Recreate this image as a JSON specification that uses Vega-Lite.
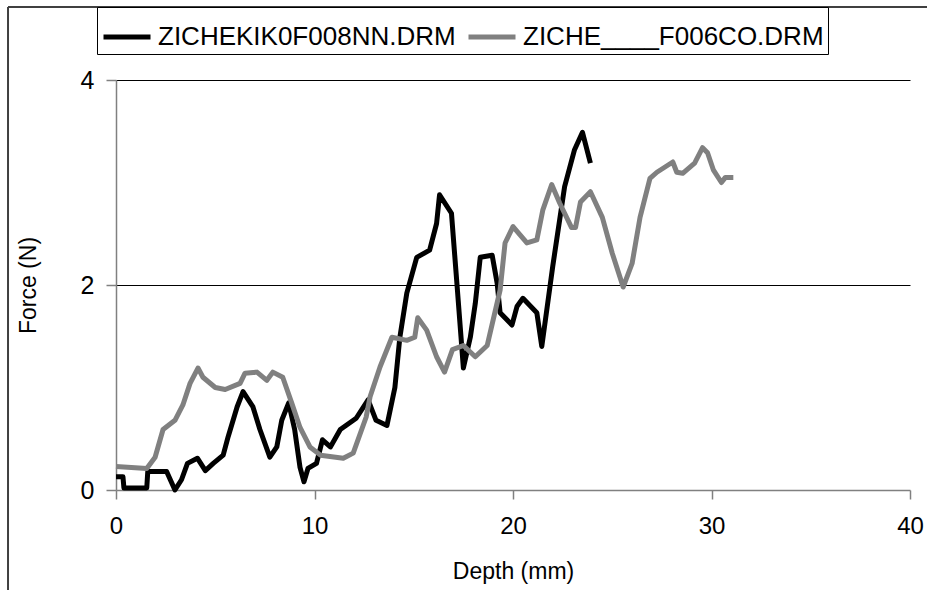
{
  "$schema": "https://vega.github.io/schema/vega-lite/v6.json",
  "width": 794,
  "height": 410,
  "autosize": {"type": "none"},
  "padding": {"left": 116, "top": 80, "right": 17, "bottom": 100},
  "background": "white",
  "config": {
    "view": {"stroke": null},
    "font": "Liberation Sans",
    "axis": {"labelColor": "black", "titleColor": "black", "titleFontWeight": "normal", "domainColor": "#808080", "tickColor": "#808080", "domainWidth": 1.5, "tickWidth": 1.5}
  },
  "datasets": {
    "curves": [
      {"series": "ZICHEKIK0F008NN.DRM", "depth": 0, "force": 0.13},
      {"series": "ZICHEKIK0F008NN.DRM", "depth": 0.35, "force": 0.13},
      {"series": "ZICHEKIK0F008NN.DRM", "depth": 0.4, "force": 0.02},
      {"series": "ZICHEKIK0F008NN.DRM", "depth": 1.55, "force": 0.02},
      {"series": "ZICHEKIK0F008NN.DRM", "depth": 1.6, "force": 0.18},
      {"series": "ZICHEKIK0F008NN.DRM", "depth": 2.55, "force": 0.18},
      {"series": "ZICHEKIK0F008NN.DRM", "depth": 2.97, "force": 0.0},
      {"series": "ZICHEKIK0F008NN.DRM", "depth": 3.3, "force": 0.1},
      {"series": "ZICHEKIK0F008NN.DRM", "depth": 3.6, "force": 0.26},
      {"series": "ZICHEKIK0F008NN.DRM", "depth": 4.1, "force": 0.31},
      {"series": "ZICHEKIK0F008NN.DRM", "depth": 4.5, "force": 0.19},
      {"series": "ZICHEKIK0F008NN.DRM", "depth": 4.9, "force": 0.26},
      {"series": "ZICHEKIK0F008NN.DRM", "depth": 5.4, "force": 0.34},
      {"series": "ZICHEKIK0F008NN.DRM", "depth": 5.65, "force": 0.52},
      {"series": "ZICHEKIK0F008NN.DRM", "depth": 6.1, "force": 0.81},
      {"series": "ZICHEKIK0F008NN.DRM", "depth": 6.4, "force": 0.96},
      {"series": "ZICHEKIK0F008NN.DRM", "depth": 6.9, "force": 0.81},
      {"series": "ZICHEKIK0F008NN.DRM", "depth": 7.25, "force": 0.59},
      {"series": "ZICHEKIK0F008NN.DRM", "depth": 7.75, "force": 0.32},
      {"series": "ZICHEKIK0F008NN.DRM", "depth": 8.1, "force": 0.42},
      {"series": "ZICHEKIK0F008NN.DRM", "depth": 8.35, "force": 0.68},
      {"series": "ZICHEKIK0F008NN.DRM", "depth": 8.7, "force": 0.85},
      {"series": "ZICHEKIK0F008NN.DRM", "depth": 9.0, "force": 0.59},
      {"series": "ZICHEKIK0F008NN.DRM", "depth": 9.27, "force": 0.22},
      {"series": "ZICHEKIK0F008NN.DRM", "depth": 9.47, "force": 0.08},
      {"series": "ZICHEKIK0F008NN.DRM", "depth": 9.67, "force": 0.21},
      {"series": "ZICHEKIK0F008NN.DRM", "depth": 10.1, "force": 0.26},
      {"series": "ZICHEKIK0F008NN.DRM", "depth": 10.4, "force": 0.49},
      {"series": "ZICHEKIK0F008NN.DRM", "depth": 10.8, "force": 0.42},
      {"series": "ZICHEKIK0F008NN.DRM", "depth": 11.3, "force": 0.59},
      {"series": "ZICHEKIK0F008NN.DRM", "depth": 12.1, "force": 0.7},
      {"series": "ZICHEKIK0F008NN.DRM", "depth": 12.7, "force": 0.88},
      {"series": "ZICHEKIK0F008NN.DRM", "depth": 13.1, "force": 0.68},
      {"series": "ZICHEKIK0F008NN.DRM", "depth": 13.65, "force": 0.63},
      {"series": "ZICHEKIK0F008NN.DRM", "depth": 14.05, "force": 1.0},
      {"series": "ZICHEKIK0F008NN.DRM", "depth": 14.3, "force": 1.49},
      {"series": "ZICHEKIK0F008NN.DRM", "depth": 14.65, "force": 1.92},
      {"series": "ZICHEKIK0F008NN.DRM", "depth": 15.15, "force": 2.27},
      {"series": "ZICHEKIK0F008NN.DRM", "depth": 15.8, "force": 2.34},
      {"series": "ZICHEKIK0F008NN.DRM", "depth": 16.15, "force": 2.6},
      {"series": "ZICHEKIK0F008NN.DRM", "depth": 16.3, "force": 2.88},
      {"series": "ZICHEKIK0F008NN.DRM", "depth": 16.9, "force": 2.7},
      {"series": "ZICHEKIK0F008NN.DRM", "depth": 17.2, "force": 1.95},
      {"series": "ZICHEKIK0F008NN.DRM", "depth": 17.5, "force": 1.19},
      {"series": "ZICHEKIK0F008NN.DRM", "depth": 17.85, "force": 1.49},
      {"series": "ZICHEKIK0F008NN.DRM", "depth": 18.1, "force": 1.82},
      {"series": "ZICHEKIK0F008NN.DRM", "depth": 18.35, "force": 2.27},
      {"series": "ZICHEKIK0F008NN.DRM", "depth": 18.95, "force": 2.29},
      {"series": "ZICHEKIK0F008NN.DRM", "depth": 19.2, "force": 2.02},
      {"series": "ZICHEKIK0F008NN.DRM", "depth": 19.35, "force": 1.73},
      {"series": "ZICHEKIK0F008NN.DRM", "depth": 19.95, "force": 1.61},
      {"series": "ZICHEKIK0F008NN.DRM", "depth": 20.2, "force": 1.79},
      {"series": "ZICHEKIK0F008NN.DRM", "depth": 20.5, "force": 1.87},
      {"series": "ZICHEKIK0F008NN.DRM", "depth": 21.2, "force": 1.73},
      {"series": "ZICHEKIK0F008NN.DRM", "depth": 21.45, "force": 1.4},
      {"series": "ZICHEKIK0F008NN.DRM", "depth": 22.0, "force": 2.18},
      {"series": "ZICHEKIK0F008NN.DRM", "depth": 22.6, "force": 2.96},
      {"series": "ZICHEKIK0F008NN.DRM", "depth": 23.1, "force": 3.32},
      {"series": "ZICHEKIK0F008NN.DRM", "depth": 23.5, "force": 3.49},
      {"series": "ZICHEKIK0F008NN.DRM", "depth": 23.9, "force": 3.19},
      {"series": "ZICHE____F006CO.DRM", "depth": 0, "force": 0.23},
      {"series": "ZICHE____F006CO.DRM", "depth": 1.55, "force": 0.21},
      {"series": "ZICHE____F006CO.DRM", "depth": 1.97, "force": 0.32},
      {"series": "ZICHE____F006CO.DRM", "depth": 2.37, "force": 0.59},
      {"series": "ZICHE____F006CO.DRM", "depth": 2.97, "force": 0.68},
      {"series": "ZICHE____F006CO.DRM", "depth": 3.37, "force": 0.83},
      {"series": "ZICHE____F006CO.DRM", "depth": 3.73, "force": 1.04},
      {"series": "ZICHE____F006CO.DRM", "depth": 4.13, "force": 1.19},
      {"series": "ZICHE____F006CO.DRM", "depth": 4.38, "force": 1.1},
      {"series": "ZICHE____F006CO.DRM", "depth": 5.0, "force": 1.0},
      {"series": "ZICHE____F006CO.DRM", "depth": 5.5, "force": 0.98},
      {"series": "ZICHE____F006CO.DRM", "depth": 6.25, "force": 1.04},
      {"series": "ZICHE____F006CO.DRM", "depth": 6.5, "force": 1.14},
      {"series": "ZICHE____F006CO.DRM", "depth": 7.1, "force": 1.15},
      {"series": "ZICHE____F006CO.DRM", "depth": 7.6, "force": 1.07},
      {"series": "ZICHE____F006CO.DRM", "depth": 7.9, "force": 1.15},
      {"series": "ZICHE____F006CO.DRM", "depth": 8.4, "force": 1.1},
      {"series": "ZICHE____F006CO.DRM", "depth": 8.85, "force": 0.85},
      {"series": "ZICHE____F006CO.DRM", "depth": 9.27, "force": 0.61},
      {"series": "ZICHE____F006CO.DRM", "depth": 9.77, "force": 0.42},
      {"series": "ZICHE____F006CO.DRM", "depth": 10.3, "force": 0.34},
      {"series": "ZICHE____F006CO.DRM", "depth": 11.45, "force": 0.31},
      {"series": "ZICHE____F006CO.DRM", "depth": 11.95, "force": 0.36},
      {"series": "ZICHE____F006CO.DRM", "depth": 12.6, "force": 0.71},
      {"series": "ZICHE____F006CO.DRM", "depth": 12.8, "force": 0.91},
      {"series": "ZICHE____F006CO.DRM", "depth": 13.3, "force": 1.2},
      {"series": "ZICHE____F006CO.DRM", "depth": 13.9, "force": 1.49},
      {"series": "ZICHE____F006CO.DRM", "depth": 14.65, "force": 1.46},
      {"series": "ZICHE____F006CO.DRM", "depth": 15.05, "force": 1.49},
      {"series": "ZICHE____F006CO.DRM", "depth": 15.2, "force": 1.68},
      {"series": "ZICHE____F006CO.DRM", "depth": 15.65, "force": 1.56},
      {"series": "ZICHE____F006CO.DRM", "depth": 16.15, "force": 1.3},
      {"series": "ZICHE____F006CO.DRM", "depth": 16.55, "force": 1.15},
      {"series": "ZICHE____F006CO.DRM", "depth": 16.95, "force": 1.37},
      {"series": "ZICHE____F006CO.DRM", "depth": 17.5, "force": 1.41},
      {"series": "ZICHE____F006CO.DRM", "depth": 18.1, "force": 1.3},
      {"series": "ZICHE____F006CO.DRM", "depth": 18.7, "force": 1.41},
      {"series": "ZICHE____F006CO.DRM", "depth": 19.0, "force": 1.66},
      {"series": "ZICHE____F006CO.DRM", "depth": 19.35, "force": 1.95},
      {"series": "ZICHE____F006CO.DRM", "depth": 19.6, "force": 2.41},
      {"series": "ZICHE____F006CO.DRM", "depth": 20.0, "force": 2.57},
      {"series": "ZICHE____F006CO.DRM", "depth": 20.7, "force": 2.41},
      {"series": "ZICHE____F006CO.DRM", "depth": 21.2, "force": 2.44},
      {"series": "ZICHE____F006CO.DRM", "depth": 21.5, "force": 2.73},
      {"series": "ZICHE____F006CO.DRM", "depth": 21.95, "force": 2.98},
      {"series": "ZICHE____F006CO.DRM", "depth": 22.35, "force": 2.8},
      {"series": "ZICHE____F006CO.DRM", "depth": 22.95, "force": 2.56},
      {"series": "ZICHE____F006CO.DRM", "depth": 23.15, "force": 2.56},
      {"series": "ZICHE____F006CO.DRM", "depth": 23.4, "force": 2.81},
      {"series": "ZICHE____F006CO.DRM", "depth": 23.9, "force": 2.91},
      {"series": "ZICHE____F006CO.DRM", "depth": 24.5, "force": 2.66},
      {"series": "ZICHE____F006CO.DRM", "depth": 25.0, "force": 2.31},
      {"series": "ZICHE____F006CO.DRM", "depth": 25.55, "force": 1.98},
      {"series": "ZICHE____F006CO.DRM", "depth": 26.0, "force": 2.21},
      {"series": "ZICHE____F006CO.DRM", "depth": 26.4, "force": 2.66},
      {"series": "ZICHE____F006CO.DRM", "depth": 26.9, "force": 3.04},
      {"series": "ZICHE____F006CO.DRM", "depth": 27.25, "force": 3.1},
      {"series": "ZICHE____F006CO.DRM", "depth": 28.05, "force": 3.2},
      {"series": "ZICHE____F006CO.DRM", "depth": 28.25, "force": 3.1},
      {"series": "ZICHE____F006CO.DRM", "depth": 28.55, "force": 3.09},
      {"series": "ZICHE____F006CO.DRM", "depth": 29.15, "force": 3.19},
      {"series": "ZICHE____F006CO.DRM", "depth": 29.55, "force": 3.34},
      {"series": "ZICHE____F006CO.DRM", "depth": 29.8, "force": 3.29},
      {"series": "ZICHE____F006CO.DRM", "depth": 30.1, "force": 3.12},
      {"series": "ZICHE____F006CO.DRM", "depth": 30.5, "force": 3.0},
      {"series": "ZICHE____F006CO.DRM", "depth": 30.7, "force": 3.05},
      {"series": "ZICHE____F006CO.DRM", "depth": 31.1, "force": 3.05}
    ]
  },
  "layer": [
    {
      "data": {"values": [{"frame": "left"}]},
      "mark": {"type": "rule", "color": "#404040", "strokeWidth": 2, "clip": false},
      "encoding": {
        "x": {"datum": -5.44, "type": "quantitative", "scale": {"domain": [0, 40]}},
        "y": {"datum": 4.712, "type": "quantitative", "scale": {"domain": [0, 4]}},
        "y2": {"datum": -1.2}
      }
    },
    {
      "data": {"values": [{"frame": "top"}]},
      "mark": {"type": "rule", "color": "#404040", "strokeWidth": 2, "clip": false},
      "encoding": {
        "x": {"datum": -5.44, "type": "quantitative"},
        "x2": {"datum": 41.5},
        "y": {"datum": 4.712, "type": "quantitative"}
      }
    },
    {
      "data": {"name": "curves"},
      "mark": {"type": "line", "strokeWidth": 5, "strokeJoin": "round", "strokeCap": "butt"},
      "encoding": {
        "x": {
          "field": "depth", "type": "quantitative",
          "scale": {"domain": [0, 40], "nice": false, "zero": false},
          "axis": {"title": "Depth (mm)", "values": [0, 10, 20, 30, 40], "format": "d", "grid": false, "tickSize": 9, "labelFontSize": 24, "labelPadding": 15, "titleFontSize": 23, "titlePadding": 22, "labelFlush": false}
        },
        "y": {
          "field": "force", "type": "quantitative",
          "scale": {"domain": [0, 4], "nice": false},
          "axis": {"title": "Force (N)", "values": [0, 2, 4], "format": "d", "grid": true, "gridColor": "black", "gridWidth": 1, "gridOpacity": {"condition": {"test": "datum.value === 0", "value": 0}, "value": 1}, "tickSize": 10, "labelFontSize": 25, "labelPadding": 12, "titleFontSize": 23, "titlePadding": 40, "labelFlush": false}
        },
        "color": {
          "field": "series", "type": "nominal",
          "scale": {"domain": ["ZICHEKIK0F008NN.DRM", "ZICHE____F006CO.DRM"], "range": ["#000000", "#808080"]},
          "legend": {
            "title": null, "orient": "none", "legendX": -19, "legendY": -73, "direction": "horizontal",
            "strokeColor": "black", "fillColor": "white", "padding": 4,
            "symbolType": "stroke", "symbolSize": 2209, "symbolStrokeWidth": 5,
            "labelFontSize": 26, "labelOffset": 5, "columnPadding": 2, "labelLimit": 500
          }
        }
      }
    }
  ]
}
